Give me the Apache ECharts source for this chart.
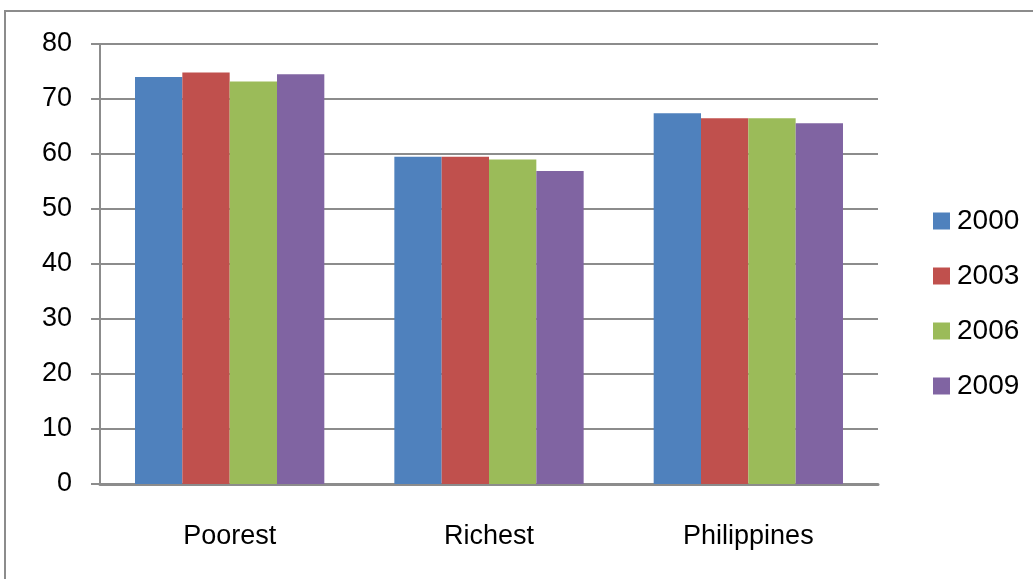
<!DOCTYPE html>
<html><head><meta charset="utf-8">
<script src="https://cdn.jsdelivr.net/npm/echarts@6/dist/echarts.min.js"></script>
<style>html,body{margin:0;padding:0;background:#fff}#c{width:1033px;height:579px}</style>
</head><body><div id="c"></div>
<script>
const categories = ['Poorest', 'Richest', 'Philippines'];
const years = ['2000', '2003', '2006', '2009'];
const v2000 = [74.0, 59.5, 67.4];
const v2003 = [74.8, 59.5, 66.5];
const v2006 = [73.2, 59.0, 66.5];
const v2009 = [74.5, 56.9, 65.6];
const colors = ['#4F81BD', '#C0504D', '#9BBB59', '#8064A2'];
const font = '"Liberation Sans",Arial,sans-serif';
const chart = echarts.init(document.getElementById('c'));
const vals = [v2000, v2003, v2006, v2009];
chart.setOption({
  animation: false,
  graphic: [{type: 'rect', shape: {x: 5, y: 11, width: 1040, height: 600}, style: {fill: 'none', stroke: '#8c8c8c', lineWidth: 2}}],
  grid: {left: 100, right: 155, top: 44, bottom: 95},
  legend: {
    orient: 'vertical', left: 928, top: 202, itemGap: 27, itemWidth: 17, itemHeight: 17,
    icon: 'rect', data: years,
    textStyle: {fontFamily: font, fontSize: 28, color: '#000', padding: [0, 0, 0, 2]}
  },
  xAxis: {
    type: 'category', data: categories,
    axisLine: {lineStyle: {color: '#8c8c8c', width: 3}},
    axisTick: {show: false},
    axisLabel: {fontFamily: font, fontSize: 27, color: '#000', margin: 39}
  },
  yAxis: {
    type: 'value', min: 0, max: 80, interval: 10,
    axisLine: {show: true, lineStyle: {color: '#8c8c8c', width: 2}},
    axisTick: {show: true, length: 9, lineStyle: {color: '#8c8c8c', width: 2}},
    splitLine: {lineStyle: {color: '#8c8c8c', width: 2}},
    axisLabel: {fontFamily: font, fontSize: 27, color: '#000', margin: 28}
  },
  series: years.map((y, i) => ({
    name: y, type: 'bar', data: vals[i], barGap: '0%', barCategoryGap: '27%',
    itemStyle: {color: colors[i]}
  }))
});
</script></body></html>
